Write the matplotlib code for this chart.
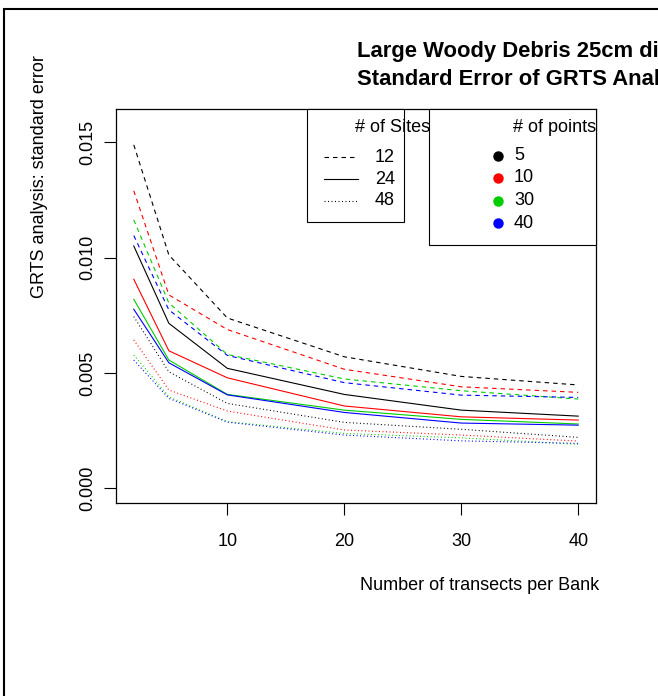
import matplotlib
matplotlib.use("Agg")
import matplotlib.pyplot as plt
from matplotlib.patches import Rectangle
from matplotlib.lines import Line2D

plt.rcParams['font.family'] = ['Liberation Sans', 'DejaVu Sans']
plt.rcParams['lines.scale_dashes'] = False

# ---- data ----
transects = [2, 5, 10, 20, 30, 40]
sites = ["12", "24", "48"]
points = ["5", "10", "30", "40"]

# values[site][point]
se_12_5 = [0.01488, 0.01011, 0.00738, 0.00570, 0.00485, 0.00448]
se_12_10 = [0.01289, 0.00838, 0.00688, 0.00516, 0.00440, 0.00416]
se_12_30 = [0.01163, 0.00803, 0.00580, 0.00474, 0.00423, 0.00387]
se_12_40 = [0.01095, 0.00773, 0.00576, 0.00458, 0.00404, 0.00394]

se_24_5 = [0.01050, 0.00715, 0.00520, 0.00407, 0.00339, 0.00313]
se_24_10 = [0.00906, 0.00596, 0.00479, 0.00357, 0.00310, 0.00296]
se_24_30 = [0.00819, 0.00556, 0.00407, 0.00339, 0.00299, 0.00279]
se_24_40 = [0.00776, 0.00544, 0.00405, 0.00329, 0.00283, 0.00274]

se_48_5 = [0.00744, 0.00505, 0.00368, 0.00286, 0.00256, 0.00221]
se_48_10 = [0.00643, 0.00426, 0.00335, 0.00253, 0.00231, 0.00205]
se_48_30 = [0.00578, 0.00397, 0.00289, 0.00238, 0.00219, 0.00191]
se_48_40 = [0.00556, 0.00390, 0.00287, 0.00231, 0.00206, 0.00195]

series = {
    "12": [se_12_5, se_12_10, se_12_30, se_12_40],
    "24": [se_24_5, se_24_10, se_24_30, se_24_40],
    "48": [se_48_5, se_48_10, se_48_30, se_48_40],
}

xticks = [10, 20, 30, 40]
yticks = [0.000, 0.005, 0.010, 0.015]
ytick_labels = ["0.000", "0.005", "0.010", "0.015"]

title_lines = ["Large Woody Debris 25cm diameter", "Standard Error of GRTS Analysis"]
xlabel = "Number of transects per Bank"
ylabel = "GRTS analysis: standard error"
sites_title = "# of Sites"
points_title = "# of points"

# ---- styles ----
W, H = 658, 696
colors = ["#000000", "#FF0000", "#00CD00", "#0000FF"]
dash_px = 1.0 / 100 * 72  # one pixel in points
styles = {
    "12": (0, (4.5 * dash_px, 4 * dash_px)),
    "24": "solid",
    "48": (0, (1 * dash_px, 2.5 * dash_px)),
}
LW = 0.8
FS = 13


def fx(x):
    return x / W


def fy(y):
    return 1 - y / H


fig = plt.figure(figsize=(W / 100, H / 100), dpi=100)

ax_l, ax_r, ax_t, ax_b = 116, 596, 109, 503
ax = fig.add_axes([fx(ax_l), fy(ax_b), (ax_r - ax_l) / W, (ax_b - ax_t) / H])

for s in sites:
    for c, vals in zip(colors, series[s]):
        ax.plot(transects, vals, color=c, linestyle=styles[s], linewidth=LW)

xr = max(transects) - min(transects)
ax.set_xlim(min(transects) - 0.04 * xr, max(transects) + 0.04 * xr)
# y axis range (0 .. 0.0158 with 4% padding)
ylo, yhi = 0.0, 0.0158
yr = yhi - ylo
ax.set_ylim(ylo - 0.04 * yr, yhi + 0.04 * yr)

ax.set_xticks(xticks)
ax.set_xticklabels([str(t) for t in xticks], fontsize=FS)
ax.set_yticks(yticks)
ax.set_yticklabels(ytick_labels, fontsize=FS, rotation=90, va='center')
ax.tick_params(axis='both', length=8.5, width=0.8, direction='out')
ax.tick_params(axis='x', pad=13)
ax.tick_params(axis='y', pad=6)
for sp in ax.spines.values():
    sp.set_linewidth(0.9)
    sp.set_color('black')

# titles and labels (the title runs past the right edge, as in the original)
fig.text(fx(357), fy(52), title_lines[0], fontsize=15.8, fontweight='bold',
         ha='left', va='center')
fig.text(fx(357), fy(79), title_lines[1], fontsize=15.8, fontweight='bold',
         ha='left', va='center')
fig.text(fx(480), fy(586), xlabel, fontsize=FS, ha='center', va='center')
fig.text(fx(40), fy(177), ylabel, fontsize=FS, ha='center', va='center',
         rotation=90)

# legend: sites
fig.patches.append(Rectangle((fx(307), fy(222)), (404 - 307) / W, (222 - 109) / H,
                             transform=fig.transFigure, fill=True, facecolor='white',
                             edgecolor='black', linewidth=0.8, zorder=5))
fig.text(fx(355), fy(127), sites_title, fontsize=FS, ha='left', va='center', zorder=6)
for i, s in enumerate(sites):
    yy = 157 + 22 * i
    fig.lines.append(Line2D([fx(324), fx(358)], [fy(yy), fy(yy)], transform=fig.transFigure,
                            color='black', linestyle=styles[s], linewidth=LW, zorder=6))
    fig.text(fx(375), fy(yy), s, fontsize=FS, ha='left', va='center', zorder=6)

# legend: points
fig.patches.append(Rectangle((fx(429), fy(245)), (596 - 429) / W, (245 - 109) / H,
                             transform=fig.transFigure, fill=True, facecolor='white',
                             edgecolor='black', linewidth=0.8, zorder=5))
fig.text(fx(596), fy(127), points_title, fontsize=FS, ha='right', va='center', zorder=6)
for i, (p, c) in enumerate(zip(points, colors)):
    yy = 155.5 + 22.5 * i
    fig.lines.append(Line2D([fx(498)], [fy(yy)], transform=fig.transFigure,
                            color=c, marker='o', markersize=6.5, linestyle='none', zorder=6))
    fig.text(fx(514), fy(yy), p, fontsize=FS, ha='left', va='center', zorder=6)

# outer frame (cut at right and bottom)
fig.patches.append(Rectangle((fx(4), fy(720)), 1.2, (720 - 9) / H,
                             transform=fig.transFigure, fill=False,
                             edgecolor='black', linewidth=1.5, zorder=10))

fig.savefig("out.png", dpi=100)
